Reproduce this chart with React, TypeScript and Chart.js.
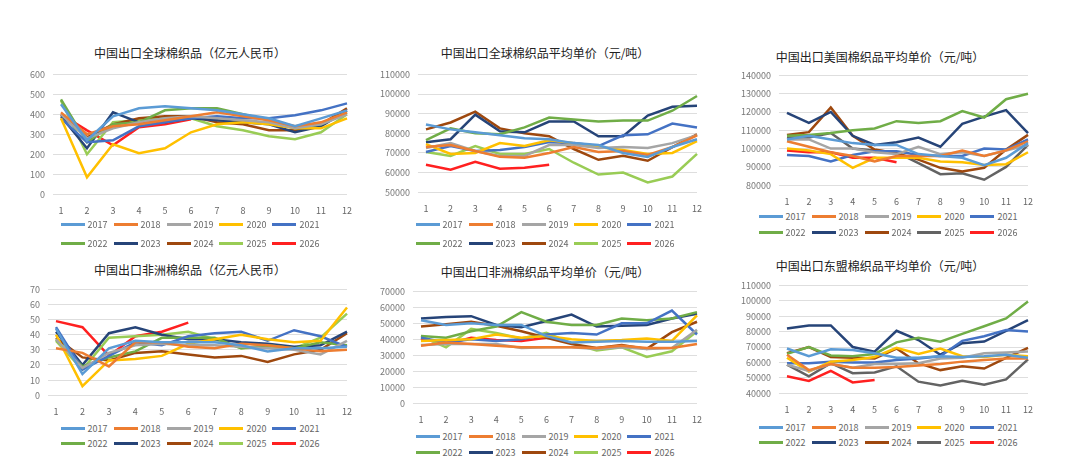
import React, { useEffect, useRef } from "react";
import { Chart, registerables } from "chart.js";
Chart.register(...registerables);

const months = ["1","2","3","4","5","6","7","8","9","10","11","12"];
const years = ["2017","2018","2019","2020","2021","2022","2023","2024","2025","2026"];
const colorsA = ["#5B9BD5","#ED7D31","#A5A5A5","#FFC000","#4472C4","#70AD47","#264478","#9E480E","#99CC55","#FF2020"];
const colorsB = ["#5B9BD5","#ED7D31","#A5A5A5","#FFC000","#4472C4","#70AD47","#264478","#9E480E","#636363","#FF2020"];

const globalValue = [
  [450,270,390,430,440,430,420,400,380,340,380,420],
  [410,300,340,350,370,390,410,390,370,340,360,410],
  [400,280,330,360,380,390,380,370,360,330,350,400],
  [380,85,250,205,230,310,350,360,350,330,330,380],
  [380,260,270,340,360,380,390,380,380,395,420,455],
  [475,260,350,360,420,430,430,400,370,330,350,410],
  [390,230,410,360,360,380,370,360,350,310,340,420],
  [400,285,350,380,390,390,360,350,320,320,350,430],
  [470,200,360,370,380,380,340,320,290,275,310,400],
  [400,320,245,335,350,375],
];
const globalPrice = [
  [84500,82000,80500,79000,77500,77000,75000,74000,70000,68000,73000,77000],
  [73000,74000,71000,68000,67500,70000,73000,70500,71000,69000,73000,79000],
  [72500,75000,71000,68500,68500,74000,74000,72500,73000,72500,75000,79000],
  [74500,69500,70000,75000,73500,76500,75000,73000,71500,69500,70000,76000],
  [70500,73500,71000,71500,73000,75500,75000,73500,79000,79500,85000,83000],
  [76500,82500,80000,79500,83000,88000,87000,86000,86500,86500,91500,99000],
  [75500,77000,89500,81000,80500,86000,86000,78500,78500,89000,93500,94000],
  [82000,85500,91000,82500,80000,78500,72000,66500,68500,66000,73000,79500],
  [70500,68500,73500,69500,69500,72000,65000,59000,60000,55000,58000,69500],
  [64000,61500,65500,62000,62500,64000],
];
const usPrice = [
  [105000,107000,105000,103000,102000,102000,97000,96000,95000,91000,95000,103000],
  [104000,101000,98000,96000,93000,96000,96000,96000,99000,96000,99000,104000],
  [105000,105000,100000,100000,98000,97000,101000,97000,98000,96000,99000,102000],
  [100000,99000,97000,89500,95000,95000,95000,93000,92500,91000,91500,98000],
  [96500,96000,93000,96500,98500,98500,96500,96000,96000,100000,99500,105000],
  [107000,107500,108500,110000,111000,115000,114000,115000,120500,117000,127000,130000],
  [119500,114000,120000,107000,102000,103500,106000,101000,113500,117500,121000,108500],
  [107500,109000,122500,107000,99500,97500,94000,89500,87500,89500,99500,107500],
  [106000,106000,108500,100000,99000,98000,92000,86000,86500,83000,90000,102000],
  [99000,98000,98000,95000,95000,92500],
];
const africaValue = [
  [44,14,31,36,35,35,35,33,29,31,31,32],
  [31,28,19,35,35,32,31,34,33,31,29,30],
  [37,18,28,33,34,33,33,32,31,30,27,36],
  [40,6,23,24,26,34,37,40,37,35,36,58],
  [45,17,26,35,33,39,41,42,36,43,39,32],
  [37,19,25,29,38,38,38,31,33,31,35,33],
  [42,20,41,45,40,37,37,35,34,32,33,42],
  [38,25,23,28,29,27,25,26,22,27,30,41],
  [36,17,38,39,40,42,37,31,32,31,38,54],
  [49,45,26,39,42,48],
];
const africaPrice = [
  [52000,49000,50000,49000,49000,42000,38000,38500,39000,38500,38500,39000],
  [36000,38000,37000,36000,35000,35000,35000,34500,36000,34500,34500,37000],
  [36500,37000,37000,37000,34500,35000,35000,34000,35000,34000,34500,46000],
  [39000,39500,40000,43000,41000,42000,40000,39000,39500,40500,39000,55000],
  [41000,38000,40000,39000,40000,43000,44000,43000,50000,50000,58000,43000],
  [42000,41000,45000,48000,57000,51000,49000,49000,53000,52000,53000,57000],
  [53000,54000,54500,49000,47500,51500,55500,48000,48500,49000,53000,56000],
  [48000,49500,51000,48500,45000,41000,37000,34500,36500,34000,44500,51000],
  [42000,35000,46500,44000,40500,44000,37500,33000,35000,29000,32500,45000],
  [40500,37000,41000,39500,39000,41000],
];
const aseanPrice = [
  [69000,64000,68500,68000,66000,63000,63000,64000,63500,64000,65000,63000],
  [65000,55000,59000,56500,56500,57000,58000,59000,60500,61500,62500,62500],
  [58500,54500,59000,56500,59000,59000,59500,62500,63000,66000,66500,67000],
  [63000,54000,60500,61500,63500,69500,65500,69000,64000,63500,65000,64000],
  [59500,59500,60500,60000,60000,61500,62500,64000,74000,77000,81000,80000],
  [65500,70000,64500,64000,65500,73000,76000,73500,78500,83500,88500,99500],
  [82000,84000,84000,70000,67000,80500,74500,65000,72500,73500,80500,87500],
  [66000,70000,63500,63000,62500,69000,59500,55000,57500,56000,63000,69500],
  [58500,51000,59500,53000,53500,57500,47500,45000,48000,45500,49000,62000],
  [51000,48000,54500,47000,48500],
];

const FONT = "'Noto Sans CJK SC', 'Noto Sans', sans-serif";

type P = {
  title: string; data: number[][]; colors: string[]; min: number; max: number; step: number;
  left: number; top: number; w: number; h: number; titleTop: number; titleX: number;
  legTop: number; legGap: number; legX: number;
};

const panels: P[] = [
  { title: "中国出口全球棉织品（亿元人民币）", data: globalValue, colors: colorsA, min: 0, max: 600, step: 100,
    left: 22, top: 61, w: 335, h: 158, titleTop: 44, titleX: 190, legTop: 218, legGap: 19, legX: 190 },
  { title: "中国出口全球棉织品平均单价（元/吨）", data: globalPrice, colors: colorsA, min: 50000, max: 110000, step: 10000,
    left: 372, top: 61, w: 335, h: 156, titleTop: 44, titleX: 545, legTop: 218, legGap: 19, legX: 545 },
  { title: "中国出口美国棉织品平均单价（元/吨）", data: usPrice, colors: colorsB, min: 80000, max: 140000, step: 10000,
    left: 733, top: 62, w: 305, h: 148, titleTop: 48, titleX: 880, legTop: 210, legGap: 16, legX: 888 },
  { title: "中国出口非洲棉织品（亿元人民币）", data: africaValue, colors: colorsA, min: 0, max: 70, step: 10,
    left: 22, top: 276, w: 335, h: 144, titleTop: 261, titleX: 190, legTop: 422, legGap: 15, legX: 190 },
  { title: "中国出口非洲棉织品平均单价（元/吨）", data: africaPrice, colors: colorsA, min: 0, max: 70000, step: 10000,
    left: 372, top: 278, w: 335, h: 150, titleTop: 263, titleX: 545, legTop: 430, legGap: 16, legX: 545 },
  { title: "中国出口东盟棉织品平均单价（元/吨）", data: aseanPrice, colors: colorsB, min: 40000, max: 110000, step: 10000,
    left: 733, top: 272, w: 305, h: 146, titleTop: 257, titleX: 880, legTop: 421, legGap: 15, legX: 888 },
];

function Panel({ p }: { p: P }) {
  const ref = useRef<HTMLCanvasElement>(null);
  useEffect(() => {
    const c = new Chart(ref.current!, {
      type: "line",
      data: {
        labels: months,
        datasets: p.data.map((d, i) => ({
          label: years[i], data: d, borderColor: p.colors[i], backgroundColor: p.colors[i],
          borderWidth: 2.5, pointRadius: 0, tension: 0,
        })),
      },
      options: {
        animation: false, responsive: false, maintainAspectRatio: false,
        plugins: { legend: { display: false }, title: { display: false }, tooltip: { enabled: false } },
        layout: { padding: { top: 6, right: 10 } },
        scales: {
          x: { grid: { display: false }, border: { display: false },
            ticks: { color: "#666", font: { family: FONT, size: 9 } } },
          y: { min: p.min, max: p.max, grid: { color: "#dedede" }, border: { display: false },
            ticks: { stepSize: p.step, color: "#777", font: { family: FONT, size: 9 }, padding: 8,
              callback: (v: any) => String(v) } },
        },
      },
    });
    return () => c.destroy();
  }, []);
  return (
    <>
      <div style={{ position: "absolute", top: p.titleTop, left: p.titleX - 150, width: 300, textAlign: "center",
        fontFamily: FONT, fontSize: 12, color: "#222" }}>{p.title}</div>
      <canvas ref={ref} width={p.w} height={p.h}
        style={{ position: "absolute", left: p.left, top: p.top, width: p.w, height: p.h }} />
      {[0, 1].map((r) => (
        <div key={r} style={{ position: "absolute", top: p.legTop + r * p.legGap, left: p.legX - 160, width: 320,
          display: "flex", justifyContent: "center", gap: 6 }}>
          {years.slice(r * 5, r * 5 + 5).map((y, k) => (
            <div key={y} style={{ display: "flex", alignItems: "center", gap: 3, fontFamily: FONT, fontSize: 9, color: "#666" }}>
              <span style={{ display: "inline-block", width: 24, height: 3, background: p.colors[r * 5 + k] }} />
              <span>{y}</span>
            </div>
          ))}
        </div>
      ))}
    </>
  );
}

export default function App() {
  return (
    <div style={{ position: "fixed", left: 0, top: 0, width: 1080, height: 463, background: "#fff", overflow: "hidden" }}>
      {panels.map((p, i) => <Panel key={i} p={p} />)}
    </div>
  );
}
